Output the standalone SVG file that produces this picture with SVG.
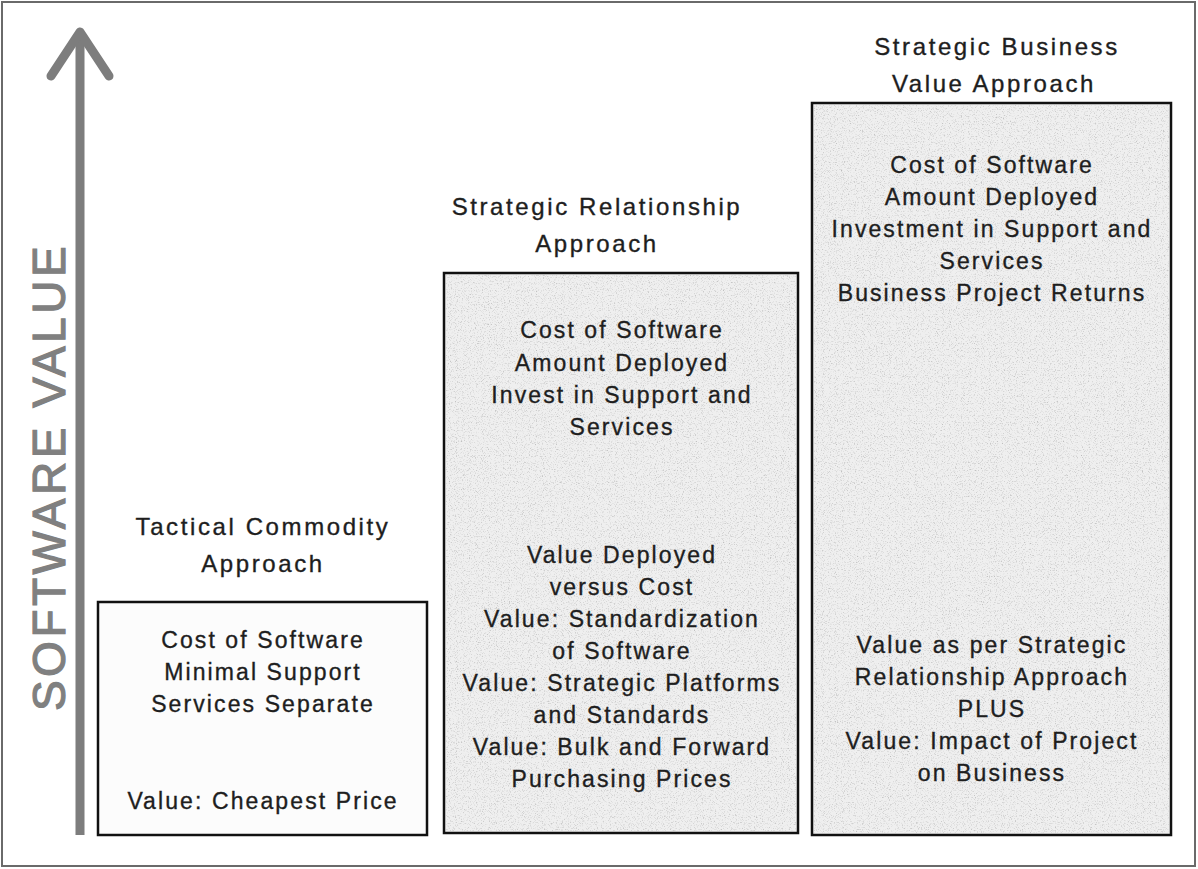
<svg xmlns="http://www.w3.org/2000/svg" width="1198" height="869" viewBox="0 0 1198 869">
  <defs>
    <filter id="speckle" x="0" y="0" width="100%" height="100%" color-interpolation-filters="sRGB">
      <feTurbulence type="fractalNoise" baseFrequency="0.85" numOctaves="2" seed="7" result="n"/>
      <feColorMatrix in="n" type="matrix" values="0 0 0 0 0.6  0 0 0 0 0.6  0 0 0 0 0.6  1.6 0 0 0 -0.85" result="dots"/>
      <feComposite in="dots" in2="SourceGraphic" operator="in"/>
    </filter>
  </defs>
  <style>
    .frame { fill: #ffffff; stroke: #6a6a6a; stroke-width: 2; }
    .box { stroke: #111111; stroke-width: 2.5; }
    .plain { fill: #fcfcfc; }
    .shaded { fill: #efefef; }
    .noise { fill: #ffffff; filter: url(#speckle); }
    .title { font-family: "Liberation Sans", Arial, sans-serif; font-size: 24px; letter-spacing: 2.6px; fill: #1e1e1e; stroke: #1e1e1e; stroke-width: 0.35px; text-anchor: middle; }
    .body { font-family: "Liberation Sans", Arial, sans-serif; font-size: 23px; letter-spacing: 2.1px; fill: #1e1e1e; stroke: #1e1e1e; stroke-width: 0.35px; text-anchor: middle; }
    .axislabel { font-family: "Liberation Sans", Arial, sans-serif; font-size: 46px; letter-spacing: 3.5px; fill: #808080; stroke: #808080; stroke-width: 1.2px; text-anchor: middle; }
    .axisline { fill: none; stroke: #7d7d7d; stroke-width: 9; stroke-linejoin: round; }
  </style>

  <rect class="frame" x="2" y="2" width="1193" height="864"/>

  <g id="axis">
    <path class="axisline" d="M80,835 L80,32"/>
    <path class="axisline" d="M51,76 L80,32 L109,76" stroke-linecap="round"/>
    <text class="axislabel" transform="translate(65,477) rotate(-90)">SOFTWARE VALUE</text>
  </g>

  <g id="tactical">
    <text class="title" x="263" y="535">Tactical Commodity</text>
    <text class="title" x="263" y="572">Approach</text>
    <rect class="box plain" x="98" y="602" width="329" height="233"/>
    <text class="body" x="263" y="648">Cost of Software</text>
    <text class="body" x="263" y="680">Minimal Support</text>
    <text class="body" x="263" y="712">Services Separate</text>
    <text class="body" x="263" y="809">Value: Cheapest Price</text>
  </g>

  <g id="relationship">
    <text class="title" x="597" y="215">Strategic Relationship</text>
    <text class="title" x="597" y="252">Approach</text>
    <rect class="box shaded" x="444" y="273" width="354" height="560"/>
    <rect class="noise" x="446" y="275" width="350" height="556"/>
    <text class="body" x="622" y="338">Cost of Software</text>
    <text class="body" x="622" y="371">Amount Deployed</text>
    <text class="body" x="622" y="403">Invest in Support and</text>
    <text class="body" x="622" y="435">Services</text>
    <text class="body" x="622" y="563">Value Deployed</text>
    <text class="body" x="622" y="595">versus Cost</text>
    <text class="body" x="622" y="627">Value: Standardization</text>
    <text class="body" x="622" y="659">of Software</text>
    <text class="body" x="622" y="691">Value: Strategic Platforms</text>
    <text class="body" x="622" y="723">and Standards</text>
    <text class="body" x="622" y="755">Value: Bulk and Forward</text>
    <text class="body" x="622" y="787">Purchasing Prices</text>
  </g>

  <g id="business">
    <text class="title" x="997" y="55">Strategic Business</text>
    <text class="title" x="994" y="92">Value Approach</text>
    <rect class="box shaded" x="812" y="103" width="359" height="732"/>
    <rect class="noise" x="814" y="105" width="355" height="728"/>
    <text class="body" x="992" y="173">Cost of Software</text>
    <text class="body" x="992" y="205">Amount Deployed</text>
    <text class="body" x="992" y="237">Investment in Support and</text>
    <text class="body" x="992" y="269">Services</text>
    <text class="body" x="992" y="301">Business Project Returns</text>
    <text class="body" x="992" y="653">Value as per Strategic</text>
    <text class="body" x="992" y="685">Relationship Approach</text>
    <text class="body" x="992" y="717">PLUS</text>
    <text class="body" x="992" y="749">Value: Impact of Project</text>
    <text class="body" x="992" y="781">on Business</text>
  </g>

  <g id="connectors"/>
</svg>
